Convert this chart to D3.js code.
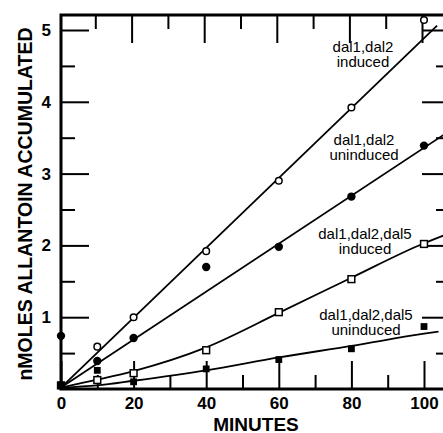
<!DOCTYPE html>
<html>
<head>
<meta charset="utf-8">
<script src="https://cdn.jsdelivr.net/npm/d3@7"></script>
<style>
  body { margin: 0; background: #fff; }
  text { font-family: "Liberation Sans", Arial, sans-serif; fill: #000; }
</style>
</head>
<body>
<svg width="443" height="433"></svg>
<script>
// measured points
var minutes = [0, 10, 20, 40, 60, 80, 100];
var inducedDal12 = [0.05, 0.59, 1.0, 1.92, 2.90, 3.92, 5.14];
var uninducedDal12 = [0.74, 0.39, 0.71, 1.70, 1.98, 2.68, 3.39];
var inducedDal125 = [0.05, 0.125, 0.22, 0.54, 1.07, 1.53, 2.02];
var uninducedDal125 = [0.05, 0.26, 0.10, 0.28, 0.41, 0.56, 0.87];

// drawn fit lines
var fitInducedDal12 = [[0, 0.02], [103.6, 5.06]];
var fitUninducedDal12 = [[0, 0.02], [106, 3.56]];
var fitInducedDal125 = [[0, 0.02], [10, 0.13], [20, 0.25], [40, 0.58], [60, 1.06], [80, 1.55], [100, 2.03], [105.5, 2.14]];
var fitUninducedDal125 = [[0, 0.02], [10, 0.05], [20, 0.115], [40, 0.26], [60, 0.44], [80, 0.6], [100, 0.77], [104, 0.8]];

var labels = [["dal1,dal2", "induced"], ["dal1,dal2", "uninduced"],
              ["dal1,dal2,dal5", "induced"], ["dal1,dal2,dal5", "uninduced"]];
var xTicks = [0, 20, 40, 60, 80, 100];
var yTicks = [1, 2, 3, 4, 5];

var svg = d3.select("svg");

var x = d3.scaleLinear().domain([0, 100]).range([61, 424]);
var y = d3.scaleLinear().domain([0, 5]).range([389, 30]);

var fLeft = 61, fRight = 450, fTop = 15, fBottom = 389;

// frame
svg.append("path")
    .attr("d", "M" + fLeft + "," + fBottom + "V" + fTop + "H" + fRight + "V" + fBottom + "Z")
    .attr("fill", "none")
    .attr("stroke", "#000")
    .attr("stroke-width", 3);

function tickStyle(g) {
  g.select(".domain").remove();
  g.selectAll(".tick line").attr("stroke", "#000").attr("stroke-width", 2);
  g.selectAll("text").attr("font-family", null).attr("font-size", null)
    .style("font-size", "17px").style("font-weight", "bold").attr("fill", "#000");
}

// bottom
svg.append("g").attr("transform", "translate(0," + fBottom + ")")
    .call(d3.axisBottom(x).tickValues(xTicks).tickSize(-28).tickPadding(8).tickFormat(d3.format("d")))
    .call(tickStyle);
svg.append("g").attr("transform", "translate(0," + fBottom + ")")
    .call(d3.axisBottom(x).tickValues([10, 30, 50, 70, 90]).tickSize(-14).tickFormat(""))
    .call(tickStyle);
// top
svg.append("g").attr("transform", "translate(-2," + fTop + ")")
    .call(d3.axisTop(x).tickValues([20, 40, 60, 80, 100]).tickSize(-28).tickFormat(""))
    .call(tickStyle);
svg.append("g").attr("transform", "translate(-2," + fTop + ")")
    .call(d3.axisTop(x).tickValues([10, 30, 50, 70, 90]).tickSize(-14).tickFormat(""))
    .call(tickStyle);
// left
svg.append("g").attr("transform", "translate(" + fLeft + ",0)")
    .call(d3.axisLeft(y).tickValues(yTicks).tickSize(-28).tickPadding(10).tickFormat(d3.format("d")))
    .call(tickStyle);
svg.append("g").attr("transform", "translate(" + fLeft + ",0)")
    .call(d3.axisLeft(y).tickValues([0.5, 1.5, 2.5, 3.5, 4.5]).tickSize(-14).tickFormat(""))
    .call(tickStyle);
// right
svg.append("g").attr("transform", "translate(" + fRight + ",0)")
    .call(d3.axisRight(y).tickValues(yTicks).tickSize(-28).tickFormat(""))
    .call(tickStyle);
svg.append("g").attr("transform", "translate(" + fRight + ",0)")
    .call(d3.axisRight(y).tickValues([0.5, 1.5, 2.5, 3.5, 4.5]).tickSize(-14).tickFormat(""))
    .call(tickStyle);

// fit lines
var line = d3.line().x(d => x(d[0])).y(d => y(d[1])).curve(d3.curveMonotoneX);
[fitInducedDal12, fitUninducedDal12, fitInducedDal125, fitUninducedDal125].forEach(function(f) {
  svg.append("path").datum(f)
      .attr("d", line)
      .attr("fill", "none")
      .attr("stroke", "#000")
      .attr("stroke-width", 1.8);
});

// points
svg.append("g").selectAll("circle").data(minutes.map((m, i) => [m, inducedDal12[i]]))
  .enter().append("circle")
    .attr("cx", d => x(d[0])).attr("cy", d => y(d[1])).attr("r", 3.3)
    .attr("fill", "#fff").attr("stroke", "#000").attr("stroke-width", 1.5);
svg.append("g").selectAll("circle").data(minutes.map((m, i) => [m, uninducedDal12[i]]))
  .enter().append("circle")
    .attr("cx", d => x(d[0])).attr("cy", d => y(d[1])).attr("r", 4.2)
    .attr("fill", "#000");
svg.append("g").selectAll("rect").data(minutes.map((m, i) => [m, inducedDal125[i]]))
  .enter().append("rect")
    .attr("x", d => x(d[0]) - 3.4).attr("y", d => y(d[1]) - 3.4)
    .attr("width", 6.8).attr("height", 6.8)
    .attr("fill", "#fff").attr("stroke", "#000").attr("stroke-width", 1.5);
svg.append("g").selectAll("rect").data(minutes.map((m, i) => [m, uninducedDal125[i]]))
  .enter().append("rect")
    .attr("x", d => x(d[0]) - 3.4).attr("y", d => y(d[1]) - 3.4)
    .attr("width", 6.8).attr("height", 6.8)
    .attr("fill", "#000");

// curve labels
var labelPos = [[363, 51.5], [364, 145], [365, 239], [366, 320]];
labels.forEach(function(l, i) {
  var t = svg.append("text")
      .attr("x", labelPos[i][0]).attr("y", labelPos[i][1])
      .attr("text-anchor", "middle")
      .style("font-size", "15px");
  t.append("tspan").attr("x", labelPos[i][0]).text(l[0]);
  t.append("tspan").attr("x", labelPos[i][0]).attr("dy", 15).text(l[1]);
});

// axis titles
svg.append("text")
    .attr("x", 256).attr("y", 431)
    .attr("text-anchor", "middle")
    .style("font-size", "19px").style("font-weight", "bold")
    .text("MINUTES");
svg.append("text")
    .attr("transform", "translate(31.5,204) rotate(-90)")
    .attr("text-anchor", "middle")
    .style("font-size", "19.5px").style("font-weight", "bold")
    .text("nMOLES ALLANTOIN ACCUMULATED");
</script>
</body>
</html>
